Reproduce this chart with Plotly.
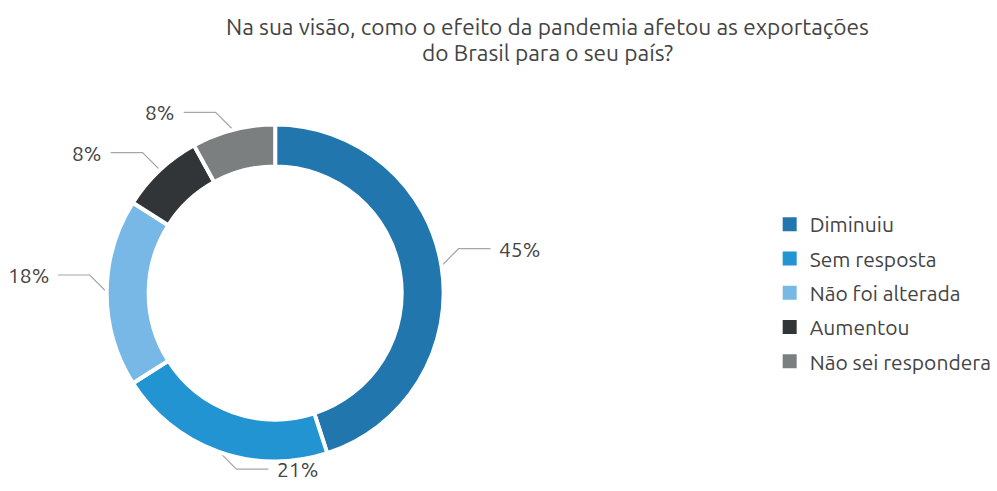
import math
import plotly.graph_objects as go

# ---- data ----
categories = ["Diminuiu", "Sem resposta", "Não foi alterada", "Aumentou", "Não sei respondera"]
values = [45, 21, 18, 8, 8]
colors = ["#2176ae", "#2294d1", "#78b8e6", "#323538", "#7b7f7f"]
title_lines = ["Na sua visão, como o efeito da pandemia afetou as exportações",
               "do Brasil para o seu país?"]

# ---- layout constants (pixels) ----
W, H = 997, 491
CX, CY = 276, 293          # pie centre
R_DOM = 169                # radius of pie domain
HOLE = 0.751
FONT = "Ubuntu, 'Noto Sans', 'Open Sans', sans-serif"
TEXT_COLOR = "#444444"
LINE_COLOR = "#a6a6a6"

fig = go.Figure()

fig.add_trace(go.Pie(
    labels=categories,
    values=values,
    marker=dict(colors=colors, line=dict(color="white", width=4)),
    hole=HOLE,
    sort=False,
    direction="clockwise",
    rotation=0,
    textinfo="none",
    hoverinfo="label+percent",
    showlegend=False,
    domain=dict(x=[(CX - R_DOM) / W, (CX + R_DOM) / W],
                y=[(H - CY - R_DOM) / H, (H - CY + R_DOM) / H]),
))

# ---- leader lines & labels computed from the values ----
total = sum(values)
r_anchor = R_DOM - 1
diag = 18
horiz = 32
gap = 7
lx, ly = [], []
annotations = []
cum = 0
for v in values:
    f = (cum + v / 2) / total
    cum += v
    th = 2 * math.pi * f
    s, c = math.sin(th), math.cos(th)
    x0 = CX + r_anchor * s
    y0 = CY - r_anchor * c
    # horizontal side: right half -> right; near the bottom -> towards the middle
    side = 1 if (s >= 0 or c < -0.9) else -1
    vdir = -1 if c >= -1e-9 else 1
    x1 = x0 + side * diag
    y1 = y0 + vdir * diag
    x2 = x1 + side * horiz
    lx += [x0, x1, x2, None]
    ly += [y0, y1, y1, None]
    pct = round(100 * v / total)
    annotations.append(dict(
        x=x2 + side * gap, y=y1, xref="x", yref="y",
        text=f"{pct}%", showarrow=False,
        xanchor="left" if side > 0 else "right", yanchor="middle",
        font=dict(size=21, color=TEXT_COLOR, family=FONT),
    ))

# title (two lines)
for txt, ypx in zip(title_lines, [27, 52]):
    annotations.append(dict(
        x=549 / W, y=1 - ypx / H, xref="paper", yref="paper",
        text=txt, showarrow=False, xanchor="center", yanchor="middle",
        font=dict(size=22.7, color=TEXT_COLOR, family=FONT),
    ))

fig.add_trace(go.Scatter(
    x=lx, y=ly, mode="lines",
    line=dict(color=LINE_COLOR, width=1.2),
    hoverinfo="skip", showlegend=False,
))

# legend entries
for name, col in zip(categories, colors):
    fig.add_trace(go.Scatter(
        x=[None], y=[None], mode="markers", name=name, legendgroup=name,
        marker=dict(symbol="square", size=14, color=col),
    ))

fig.update_layout(
    width=W, height=H,
    margin=dict(l=0, r=0, t=0, b=0),
    paper_bgcolor="white", plot_bgcolor="white",
    font=dict(family=FONT, color=TEXT_COLOR),
    xaxis=dict(range=[0, W], visible=False, domain=[0, 1], fixedrange=True),
    yaxis=dict(range=[H, 0], visible=False, domain=[0, 1], fixedrange=True),
    legend=dict(x=772 / W, y=1 - 204 / H, xanchor="left", yanchor="top",
                font=dict(size=21, color=TEXT_COLOR, family=FONT),
                tracegroupgap=4, itemclick=False, itemdoubleclick=False,
                bgcolor="rgba(0,0,0,0)"),
    annotations=annotations,
    showlegend=True,
)

fig.write_html("out.html", config={"displayModeBar": False},
               post_script="document.body.style.margin='0';")
